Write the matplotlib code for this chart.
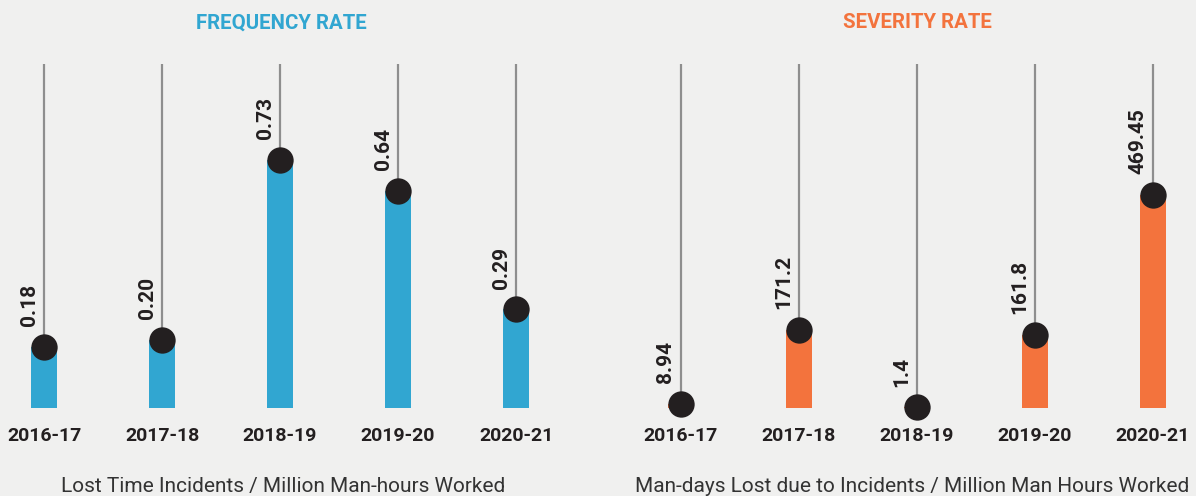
import matplotlib.pyplot as plt

# ------------------------------------------
# Datos
# ------------------------------------------
years = ['2016-17', '2017-18', '2018-19', '2019-20', '2020-21']
frequency_rate = [0.18, 0.20, 0.73, 0.64, 0.29]
severity_rate = [8.94, 171.2, 1.4, 161.8, 469.45]
frequency_labels = ['0.18', '0.20', '0.73', '0.64', '0.29']
severity_labels = ['8.94', '171.2', '1.4', '161.8', '469.45']

BLUE = '#31a6d1'
ORANGE = '#f3733d'
DOT = '#231f20'
STEM = '#8e8e8e'
BG = '#f0f0ef'

plt.rcParams['font.family'] = ['Roboto', 'DejaVu Sans']

W, H = 1196, 496
fig = plt.figure(figsize=(W / 100, H / 100), dpi=100, facecolor=BG)

STEP = 118.0            # px entre columnas
BASE = 408.0            # px (desde arriba) de la base de las barras
TOP = 64.0              # px donde empiezan las líneas grises


def panel(x_left, x_right, first_stem, values, labels, ymax, color):
    ax = fig.add_axes([x_left / W, 1 - BASE / H,
                       (x_right - x_left) / W, (BASE - TOP) / H])
    ax.set_facecolor('none')
    pos = list(range(len(values)))
    ax.set_xlim((x_left - first_stem) / STEP, (x_right - first_stem) / STEP)
    ax.set_ylim(0, ymax)

    ax.vlines(pos, 0, ymax, color=STEM, lw=1.6, zorder=1)
    ax.bar(pos, values, width=26 / STEP, color=color, zorder=2)
    ax.scatter(pos, values, s=360, color=DOT, zorder=3, clip_on=False,
               linewidths=0)

    for p, v, lab in zip(pos, values, labels):
        ax.annotate(lab, (p, v), xytext=(-10.8, 15), textcoords='offset points',
                    rotation=90, ha='center', va='bottom', fontsize=15,
                    fontweight='bold', color=DOT, annotation_clip=False)

    ax.set_xticks(pos)
    ax.set_xticklabels(years, fontsize=14, fontweight='bold', color=DOT)
    ax.tick_params(axis='x', length=0, pad=13.5)
    ax.set_yticks([])
    for s in ax.spines.values():
        s.set_visible(False)
    return ax


panel(0, 598, 44, frequency_rate, frequency_labels, 1.0126, BLUE)
panel(598, 1196, 680.6, severity_rate, severity_labels, 758.2, ORANGE)

# Títulos y notas al pie
fig.text(281 / W, 1 - 28.5 / H, 'FREQUENCY RATE', ha='center', va='baseline',
         fontsize=14.7, fontweight='bold', color=BLUE)
fig.text(917 / W, 1 - 28.5 / H, 'SEVERITY RATE', ha='center', va='baseline',
         fontsize=14.7, fontweight='bold', color=ORANGE)
fig.text(283 / W, 1 - 492 / H, 'Lost Time Incidents / Million Man-hours Worked',
         ha='center', va='baseline', fontsize=15, fontweight='normal',
         color='#333333')
fig.text(912 / W, 1 - 492 / H,
         'Man-days Lost due to Incidents / Million Man Hours Worked',
         ha='center', va='baseline', fontsize=15, fontweight='normal',
         color='#333333')

fig.savefig('out.png', dpi=100, facecolor=BG)
